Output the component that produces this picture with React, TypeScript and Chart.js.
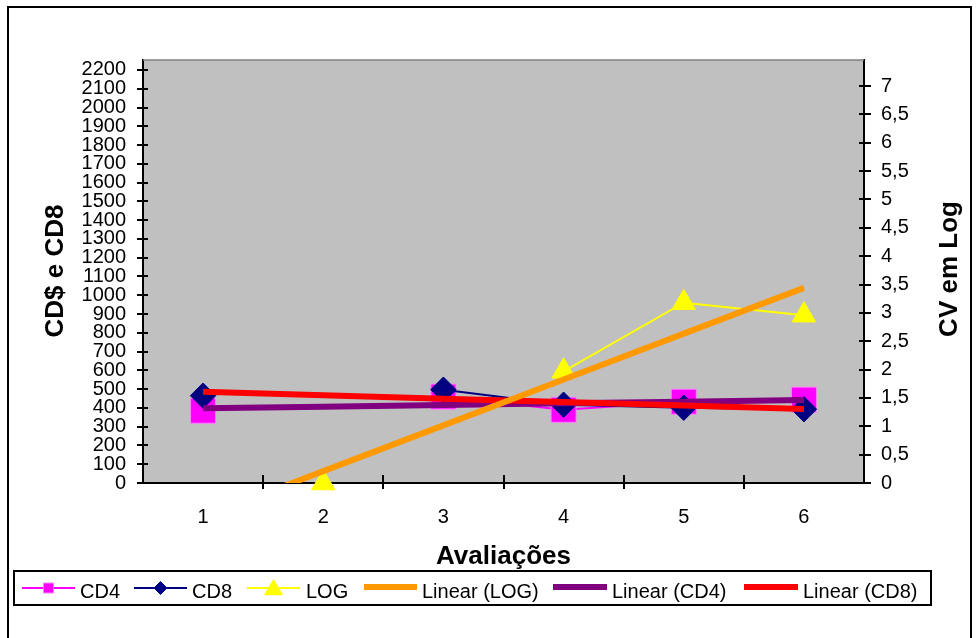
import React, { useEffect, useRef } from 'react';
import { Chart, registerables } from 'chart.js';

Chart.register(...registerables);

const categories = ['1', '2', '3', '4', '5', '6'];
const cd4 = [385, null, 460, 390, 433, 444];
const cd8 = [465, null, 497, 417, 401, 393];
const logCV = [null, 0, null, 1.97, 3.18, 2.96];
const leftTicks = [0, 100, 200, 300, 400, 500, 600, 700, 800, 900, 1000, 1100, 1200, 1300, 1400, 1500, 1600, 1700, 1800, 1900, 2000, 2100, 2200];
const rightTicks = [0, 0.5, 1, 1.5, 2, 2.5, 3, 3.5, 4, 4.5, 5, 5.5, 6, 6.5, 7];
const leftMax = 2253;
const rightMax = 7.46;

const FONT = "'Liberation Sans', Arial, sans-serif";

function trend(values: (number | null)[]): number[] {
  const pts: [number, number][] = [];
  values.forEach((v, i) => {
    if (v !== null) pts.push([i + 1, v]);
  });
  const n = pts.length;
  const mx = pts.reduce((s, p) => s + p[0], 0) / n;
  const my = pts.reduce((s, p) => s + p[1], 0) / n;
  let sxy = 0, sxx = 0;
  pts.forEach(([x, y]) => {
    sxy += (x - mx) * (y - my);
    sxx += (x - mx) * (x - mx);
  });
  const b = sxy / sxx;
  const a = my - b * mx;
  return values.map((_, i) => a + b * (i + 1));
}

function drawMarker(ctx: CanvasRenderingContext2D, style: string, x: number, y: number, s: number, fill: string, stroke: string) {
  ctx.save();
  ctx.fillStyle = fill;
  ctx.strokeStyle = stroke;
  ctx.lineWidth = 1;
  ctx.beginPath();
  if (style === 'rect') {
    ctx.rect(x - s / 2, y - s / 2, s, s);
  } else if (style === 'rectRot') {
    ctx.moveTo(x - s / 2, y);
    ctx.lineTo(x, y - s / 2);
    ctx.lineTo(x + s / 2, y);
    ctx.lineTo(x, y + s / 2);
    ctx.closePath();
  } else if (style === 'triangle') {
    ctx.moveTo(x, y - s * 0.55);
    ctx.lineTo(x + s * 0.6, y + s * 0.45);
    ctx.lineTo(x - s * 0.6, y + s * 0.45);
    ctx.closePath();
  }
  ctx.fill();
  ctx.stroke();
  ctx.restore();
}

const decorPlugin = {
  id: 'decor',
  beforeDraw(chart: any) {
    const { ctx, chartArea: a } = chart;
    ctx.save();
    ctx.fillStyle = '#ffffff';
    ctx.fillRect(0, 0, chart.width, chart.height);
    ctx.fillStyle = '#C0C0C0';
    ctx.fillRect(a.left, a.top, a.right - a.left, a.bottom - a.top);
    ctx.restore();
  },
  beforeDatasetsDraw(chart: any) {
    const { ctx, chartArea: a, scales } = chart;
    ctx.save();
    ctx.strokeStyle = '#808080';
    ctx.lineWidth = 1.5;
    ctx.beginPath();
    ctx.moveTo(a.left, a.top);
    ctx.lineTo(a.right, a.top);
    ctx.stroke();
    ctx.strokeStyle = '#000000';
    ctx.lineWidth = 2;
    ctx.beginPath();
    scales.y.ticks.forEach((t: any) => {
      const py = Math.round(scales.y.getPixelForValue(t.value));
      ctx.moveTo(a.left - 6, py);
      ctx.lineTo(a.left + 5, py);
    });
    scales.y1.ticks.forEach((t: any) => {
      const py = Math.round(scales.y1.getPixelForValue(t.value));
      ctx.moveTo(a.right - 5, py);
      ctx.lineTo(a.right + 7, py);
    });
    for (let i = 0; i < categories.length - 1; i++) {
      const px = Math.round((scales.x.getPixelForValue(i) + scales.x.getPixelForValue(i + 1)) / 2);
      ctx.moveTo(px, a.bottom - 8);
      ctx.lineTo(px, a.bottom + 6);
    }
    ctx.stroke();
    ctx.restore();
  },
  afterDraw(chart: any) {
    const { ctx, chartArea: a } = chart;
    ctx.save();
    // outer border
    ctx.strokeStyle = '#000000';
    ctx.lineWidth = 2;
    ctx.strokeRect(8, 7, 963, 700);

    // axis titles
    ctx.fillStyle = '#000000';
    ctx.font = `bold 26px ${FONT}`;
    ctx.textAlign = 'center';
    ctx.textBaseline = 'alphabetic';
    ctx.fillText('Avaliações', (a.left + a.right) / 2, 564);
    ctx.save();
    ctx.translate(63, 271);
    ctx.rotate(-Math.PI / 2);
    ctx.fillText('CD$ e CD8', 0, 0);
    ctx.restore();
    ctx.save();
    ctx.translate(957, 269);
    ctx.rotate(-Math.PI / 2);
    ctx.fillText('CV em Log', 0, 0);
    ctx.restore();

    // legend
    ctx.lineWidth = 2;
    ctx.strokeStyle = '#000000';
    ctx.strokeRect(14, 571, 917, 34);
    const items = [
      { x0: 22, x1: 75, tx: 80, ms: 10 },
      { x0: 134, x1: 187, tx: 192, ms: 13 },
      { x0: 247, x1: 300, tx: 306, ms: 15 },
      { x0: 364, x1: 417, tx: 422, ms: 0 },
      { x0: 553, x1: 607, tx: 612, ms: 0 },
      { x0: 744, x1: 798, tx: 803, ms: 0 },
    ];
    const dsets = chart.data.datasets;
    items.forEach((it, i) => {
      const ds = dsets[i];
      const ly = ds.borderWidth > 3 ? 587 : 588;
      ctx.strokeStyle = ds.borderColor;
      ctx.lineWidth = ds.borderWidth;
      ctx.beginPath();
      ctx.moveTo(it.x0, ly);
      ctx.lineTo(it.x1, ly);
      ctx.stroke();
      if (it.ms > 0) {
        drawMarker(ctx, ds.pointStyle, (it.x0 + it.x1) / 2, ly, it.ms, ds.pointBackgroundColor, ds.pointBorderColor);
      }
      ctx.fillStyle = '#000000';
      ctx.font = `20px ${FONT}`;
      ctx.textAlign = 'left';
      ctx.textBaseline = 'alphabetic';
      ctx.fillText(ds.label, it.tx, 598);
    });
    ctx.restore();
  },
};

export default function App() {
  const ref = useRef<HTMLCanvasElement | null>(null);

  useEffect(() => {
    if (!ref.current) return;
    const tickFont = { size: 20, family: FONT };
    const chart = new Chart(ref.current, {
      type: 'line',
      data: {
        labels: categories,
        datasets: [
          {
            label: 'CD4',
            data: cd4,
            yAxisID: 'y',
            borderColor: '#FF00FF',
            borderWidth: 2,
            pointStyle: 'rect',
            pointRadius: 17.7,
            pointBackgroundColor: '#FF00FF',
            pointBorderColor: '#FF80FF',
            pointBorderWidth: 1,
            order: 5,
            clip: false,
          },
          {
            label: 'CD8',
            data: cd8,
            yAxisID: 'y',
            borderColor: '#000080',
            borderWidth: 2,
            pointStyle: 'rectRot',
            pointRadius: 12.7,
            pointBackgroundColor: '#000080',
            pointBorderColor: '#000080',
            pointBorderWidth: 1,
            order: 4,
            clip: false,
          },
          {
            label: 'LOG',
            data: logCV,
            yAxisID: 'y1',
            borderColor: '#FFFF00',
            borderWidth: 2,
            pointStyle: 'triangle',
            pointRadius: 13.5,
            pointBackgroundColor: '#FFFF00',
            pointBorderColor: '#FFFF00',
            pointBorderWidth: 1,
            order: 3,
            clip: false,
          },
          {
            label: 'Linear (LOG)',
            data: trend(logCV),
            yAxisID: 'y1',
            borderColor: '#FF9900',
            borderWidth: 6,
            pointRadius: 0,
            order: 0,
            clip: 0,
          },
          {
            label: 'Linear (CD4)',
            data: trend(cd4),
            yAxisID: 'y',
            borderColor: '#800080',
            borderWidth: 6,
            pointRadius: 0,
            order: 2,
            clip: 0,
          },
          {
            label: 'Linear (CD8)',
            data: trend(cd8),
            yAxisID: 'y',
            borderColor: '#FF0000',
            borderWidth: 6,
            pointRadius: 0,
            order: 1,
            clip: 0,
          },
        ],
      } as any,
      options: {
        responsive: false,
        animation: false,
        events: [],
        devicePixelRatio: 1,
        layout: { padding: { top: 60, left: 0, right: 0, bottom: 0 } },
        plugins: {
          legend: { display: false },
          tooltip: { enabled: false },
          title: { display: false },
        },
        scales: {
          x: {
            type: 'category',
            offset: true,
            grid: { display: false, drawTicks: false, offset: true },
            border: { display: true, color: '#000000', width: 2 },
            ticks: { font: tickFont, color: '#000000', padding: 22, maxRotation: 0, autoSkip: false },
            afterFit: (s: any) => { s.height = 155; },
          },
          y: {
            type: 'linear',
            position: 'left',
            min: 0,
            max: leftMax,
            grid: { display: false, drawTicks: false },
            border: { display: true, color: '#000000', width: 2 },
            ticks: {
              font: tickFont,
              color: '#000000',
              padding: 17,
              autoSkip: false,
              callback: (v: any) => String(v),
            },
            afterBuildTicks: (s: any) => { s.ticks = leftTicks.map((v) => ({ value: v })); },
            afterFit: (s: any) => { s.width = 143; },
          },
          y1: {
            type: 'linear',
            position: 'right',
            min: 0,
            max: rightMax,
            grid: { display: false, drawTicks: false },
            border: { display: true, color: '#000000', width: 2 },
            ticks: {
              font: tickFont,
              color: '#000000',
              padding: 17,
              autoSkip: false,
              callback: (v: any) => String(v).replace('.', ','),
            },
            afterBuildTicks: (s: any) => { s.ticks = rightTicks.map((v) => ({ value: v })); },
            afterFit: (s: any) => { s.width = 114; },
          },
        },
      } as any,
      plugins: [decorPlugin],
    });
    return () => chart.destroy();
  }, []);

  return (
    <div style={{ position: 'fixed', left: 0, top: 0, width: 978, height: 638, background: '#ffffff' }}>
      <canvas ref={ref} width={978} height={638} style={{ display: 'block', width: 978, height: 638 }} />
    </div>
  );
}
